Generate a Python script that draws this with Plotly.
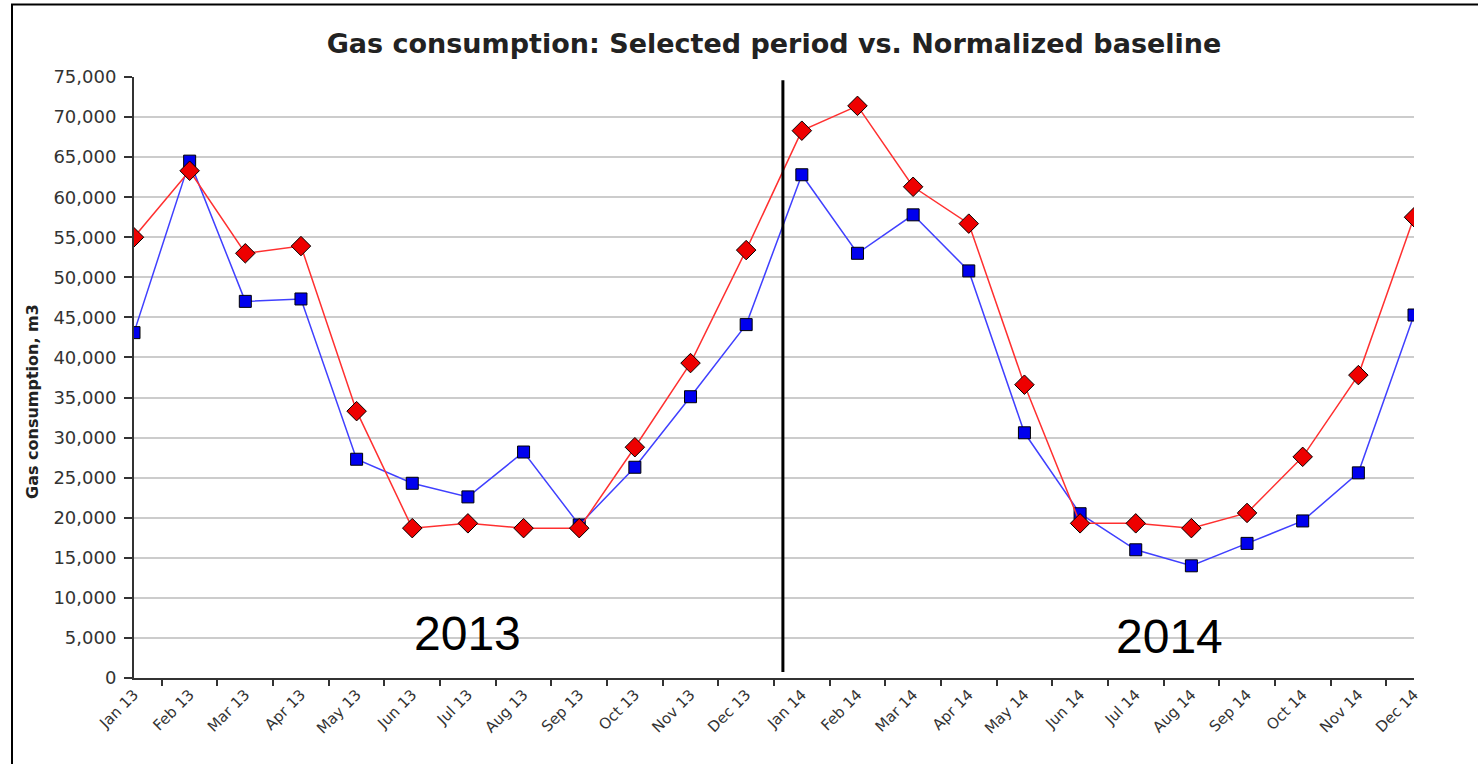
import plotly.graph_objects as go

months = ["Jan 13", "Feb 13", "Mar 13", "Apr 13", "May 13", "Jun 13", "Jul 13", "Aug 13",
          "Sep 13", "Oct 13", "Nov 13", "Dec 13", "Jan 14", "Feb 14", "Mar 14", "Apr 14",
          "May 14", "Jun 14", "Jul 14", "Aug 14", "Sep 14", "Oct 14", "Nov 14", "Dec 14"]

baseline = [55000, 63300, 53000, 53900, 33300, 18700, 19300, 18700, 18700, 28800, 39300, 53400,
            68300, 71400, 61300, 56700, 36600, 19300, 19300, 18700, 20600, 27600, 37800, 57500]

selected = [43100, 64500, 47000, 47300, 27300, 24300, 22600, 28200, 19100, 26300, 35100, 44100,
            62800, 53000, 57800, 50800, 30600, 20500, 16000, 14000, 16800, 19600, 25600, 45300]

y_ticks = list(range(0, 75001, 5000))

FONT = "DejaVu Sans, Verdana, sans-serif"
ARIAL = "Liberation Sans, Arial, sans-serif"

fig = go.Figure()
fig.add_trace(go.Scatter(
    x=months, y=selected, mode="lines+markers", name="Selected period",
    line=dict(color="#4040ff", width=1.5),
    marker=dict(symbol="square", size=12, color="#0000ee", line=dict(color="#000", width=1)),
))
fig.add_trace(go.Scatter(
    x=months, y=baseline, mode="lines+markers", name="Normalized baseline",
    line=dict(color="#ff3030", width=1.5),
    marker=dict(symbol="diamond", size=15, color="#ee0000", line=dict(color="#000", width=1)),
))

fig.update_layout(
    width=1478, height=764,
    margin=dict(l=134, r=64, t=77, b=86),
    paper_bgcolor="white", plot_bgcolor="white",
    showlegend=False,
    font=dict(family=FONT, color="#333"),
    title=dict(text="<b>Gas consumption: Selected period vs. Normalized baseline</b>",
               x=0.5, xref="paper", xanchor="center", y=1 - 44 / 764, yanchor="middle",
               font=dict(size=27, color="#222", family=FONT)),
    xaxis=dict(
        type="category", range=[0, 23], tickson="boundaries",
        ticks="outside", ticklen=6, tickwidth=2, tickcolor="#333",
        showline=True, linecolor="#333", linewidth=2,
        showgrid=False, tickangle=-45, tickfont=dict(size=15, color="#333", family=FONT),
        zeroline=False, fixedrange=True,
    ),
    yaxis=dict(
        range=[0, 75000], tickvals=y_ticks, tickformat=",",
        ticks="outside", ticklen=8, tickwidth=2, tickcolor="#333",
        showline=True, linecolor="#333", linewidth=2,
        showgrid=True, gridcolor="#cccccc", gridwidth=1.5,
        tickfont=dict(size=18, color="#333", family=FONT), zeroline=False,
        ticklabelstandoff=4,
    ),
)

# y-axis title (placed as in the reference, slightly below axis centre)
fig.add_annotation(text="<b>Gas consumption, m3</b>", textangle=-90,
                   xref="paper", yref="paper", x=(32 - 134) / 1280, y=(678 - 402) / 601,
                   xanchor="center", yanchor="middle", showarrow=False,
                   font=dict(size=16, color="#222", family=FONT))

# divider between years
fig.add_shape(type="line", xref="x", yref="y", x0=11.66, x1=11.66, y0=750, y1=74600,
              line=dict(color="black", width=3))

# outer frame (left and top edges visible)
fig.add_shape(type="rect", xref="paper", yref="paper",
              x0=-122 / 1280, x1=1.2, y0=-0.2, y1=(678 - 4.5) / 601,
              line=dict(color="black", width=2), fillcolor="rgba(0,0,0,0)", layer="above")

fig.add_annotation(text="2013", x=6, xref="x", y=5600, yref="y", showarrow=False,
                   font=dict(size=48, color="black", family=ARIAL))
fig.add_annotation(text="2014", x=18.6, xref="x", y=5200, yref="y", showarrow=False,
                   font=dict(size=48, color="black", family=ARIAL))

fig.write_html("out.html", config={"displayModeBar": False},
               post_script="document.body.style.margin='0';document.body.style.overflow='hidden';")
